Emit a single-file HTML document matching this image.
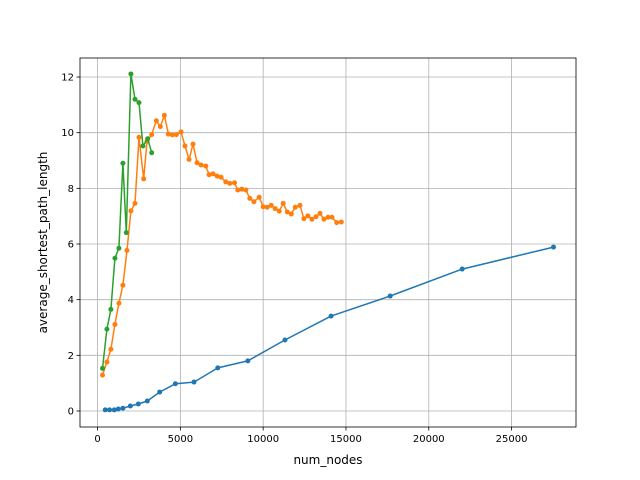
<!DOCTYPE html>
<html><head><meta charset="utf-8"><style>
html,body{margin:0;padding:0;background:#fff;}
svg{display:block;font-family:"DejaVu Sans","Liberation Sans",sans-serif;}
</style></head><body>
<svg id="chart" width="640" height="480" viewBox="0 0 640 480" xmlns="http://www.w3.org/2000/svg">
<rect x="0" y="0" width="640" height="480" fill="#fff"/>
<g id="grid"></g>
<g id="series"></g>
<rect x="80" y="58" width="496" height="369" fill="none" stroke="#000" stroke-width="0.8"/>
<g id="ticks"></g>
<text x="328" y="464" font-size="12" text-anchor="middle">num_nodes</text>
<text transform="translate(47,242.5) rotate(-90)" font-size="12" text-anchor="middle">average_shortest_path_length</text>
</svg>
<script>
const xTicks=[0,5000,10000,15000,20000,25000];
const yTicks=[0,2,4,6,8,10,12];
const blueX=[465,725,1010,1250,1530,1980,2460,3005,3750,4700,5825,7260,9075,11315,14100,17670,22020,27530];
const blueY=[0.04,0.04,0.04,0.07,0.10,0.18,0.25,0.36,0.68,0.98,1.04,1.55,1.80,2.55,3.41,4.13,5.10,5.89];
const orangeX=[300,565,805,1050,1290,1530,1775,2015,2260,2500,2785,2985,3270,3550,3790,4035,4275,4520,4760,5040,5280,5525,5765,6010,6250,6535,6735,6975,7220,7460,7745,7985,8270,8470,8710,8955,9195,9440,9760,10000,10245,10485,10725,10970,11210,11455,11695,11935,12220,12460,12700,12945,13190,13430,13670,13915,14155,14440,14720];
const orangeY=[1.29,1.76,2.22,3.11,3.87,4.52,5.77,7.19,7.46,9.83,8.34,9.69,9.93,10.43,10.22,10.62,9.95,9.92,9.93,10.03,9.52,9.04,9.59,8.92,8.84,8.80,8.49,8.52,8.44,8.40,8.23,8.18,8.20,7.94,7.97,7.94,7.64,7.52,7.68,7.34,7.32,7.39,7.27,7.18,7.46,7.15,7.08,7.32,7.39,6.91,7.01,6.89,6.98,7.10,6.89,6.96,6.96,6.77,6.79];
const greenX=[300,565,805,1050,1290,1530,1735,2015,2260,2500,2740,3025,3270];
const greenY=[1.53,2.94,3.65,5.49,5.85,8.90,6.41,12.11,11.20,11.08,9.52,9.78,9.28];

const NS="http://www.w3.org/2000/svg";
const X0=80,X1=576,Y0=58,Y1=427;
const xmin=-1060,xmax=28890,ymin=-0.575,ymax=12.683;
function sx(v){return X0+(v-xmin)/(xmax-xmin)*(X1-X0);}
function sy(v){return Y1-(v-ymin)/(ymax-ymin)*(Y1-Y0);}
function mk(tag,attrs,parent){const e=document.createElementNS(NS,tag);for(const k in attrs)e.setAttribute(k,attrs[k]);parent.appendChild(e);return e;}
const grid=document.getElementById('grid'),ticks=document.getElementById('ticks'),series=document.getElementById('series');
xTicks.forEach(t=>{const x=sx(t);
 const g=mk('line',{x1:x,x2:x,y1:Y0,y2:Y1,stroke:'#b0b0b0','stroke-width':0.8},grid);
 
 
 mk('line',{x1:x,x2:x,y1:Y1,y2:Y1+3.5,stroke:'#000','stroke-width':0.8},ticks);
 const tx=mk('text',{x:x,y:Y1+15,'font-size':10,'text-anchor':'middle'},ticks);tx.textContent=t;
 
 
});
yTicks.forEach(t=>{const y=sy(t);
 const g=mk('line',{x1:X0,x2:X1,y1:y,y2:y,stroke:'#b0b0b0','stroke-width':0.8},grid);
 
 
 mk('line',{x1:X0-3.5,x2:X0,y1:y,y2:y,stroke:'#000','stroke-width':0.8},ticks);
 const tx=mk('text',{x:X0-6,y:y+3.5,'font-size':10,'text-anchor':'end'},ticks);tx.textContent=t;
 
 
});
function draw(xs,ys,color,name){
 const g=mk('g',{},series);
 
 
 const pts=xs.map((x,i)=>sx(x).toFixed(1)+','+sy(ys[i]).toFixed(1)).join(' ');
 mk('polyline',{points:pts,fill:'none',stroke:color,'stroke-width':1.5,'stroke-linejoin':'round'},g);
 xs.forEach((x,i)=>{const c=mk('circle',{cx:sx(x),cy:sy(ys[i]),r:2.5,fill:color},g);
  
  
 });
}
draw(blueX,blueY,'#1f77b4','series-blue');
draw(orangeX,orangeY,'#ff7f0e','series-orange');
draw(greenX,greenY,'#2ca02c','series-green');
</script>
</body></html>
